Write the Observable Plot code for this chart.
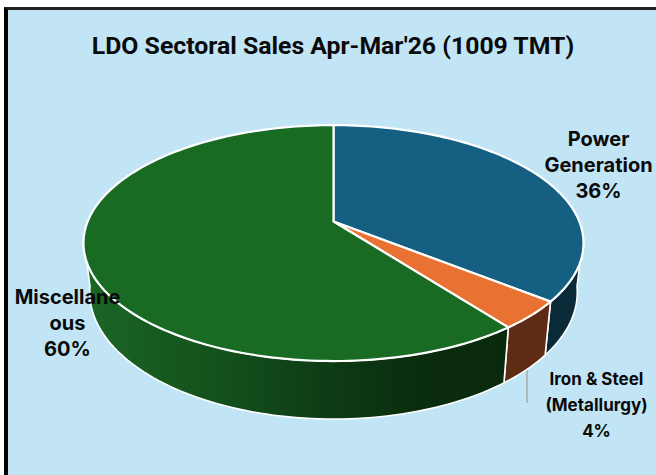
<!DOCTYPE html>
<html><head><meta charset="utf-8">
<script src="https://cdn.jsdelivr.net/npm/d3@7"></script>
<script src="https://cdn.jsdelivr.net/npm/@observablehq/plot@0.6"></script>
<style>
html,body{margin:0;padding:0;background:#fff;}
#frame{position:absolute;left:0;top:0;width:656px;height:475px;overflow:hidden;}
#panel{position:absolute;left:4px;top:7px;right:-4px;bottom:-4px;background:#C1E5F5;border-left:4px solid #000;border-top:3px solid #222;}
#title{position:absolute;left:0;top:31px;width:666px;text-align:center;font:700 24.8px Roboto,sans-serif;color:#0a0a0a;white-space:nowrap;}
#chart{position:absolute;left:0;top:60px;}
#chart svg{background:transparent;display:block;}
</style></head><body>
<div id="frame"><div id="panel"></div>
<div id="title">LDO Sectoral Sales Apr-Mar'26 (1009 TMT)</div>
<div id="chart"></div></div>
<script>
const sectors = ["Power Generation", "Iron & Steel (Metallurgy)", "Miscellaneous"];
const shares = [35.7, 3.9, 60.4];
const labels = ["36%", "4%", "60%"];
const topColors = ["#156082", "#E97132", "#196B24"];
const sideColors = ["#0A2A3A", "#5E2C14", "url(#greenSide)"];

const W = 656, H = 475, top0 = 60;
const cx = 333, cy = 221, k = -0.183, A = 114, B = 245.8, depth = 47.4, shrink = 0.975;
const rim = (deg) => {
  const t = deg * Math.PI / 180, u = Math.sin(t), v = -Math.cos(t), d = 1 + k * v;
  const x = cx + B * u / d, y = cy + A * v / d;
  return {x, y, xb: cx + (x - cx) * shrink, yb: y + depth / d};
};
let acc = 0;
const slices = shares.map((s, i) => {
  const a0 = acc; acc += s;
  return {i, a0: a0 * 3.6, a1: acc * 3.6};
});
const arc = (a0, a1) => {
  const n = Math.max(2, Math.ceil((a1 - a0) / 1.5));
  return d3.range(n + 1).map(j => a0 + (a1 - a0) * j / n);
};
const topPts = slices.flatMap(s => [
  {slice: s.i, x: cx, y: cy},
  ...arc(s.a0, s.a1).map(a => ({slice: s.i, ...rim(a)})),
  {slice: s.i, x: cx, y: cy}
]);
const rightA = 98, leftA = 262;
const wallPts = slices.flatMap(s => {
  const a0 = Math.max(s.a0, rightA), a1 = Math.min(s.a1, leftA);
  if (a1 <= a0) return [];
  const r = arc(a0, a1).map(a => rim(a));
  return [
    ...r.map(p => ({slice: s.i, x: p.x, y: p.y})),
    ...r.slice().reverse().map(p => ({slice: s.i, x: p.xb, y: p.yb})),
    {slice: s.i, x: r[0].x, y: r[0].y}
  ];
});

const defs = () => {
  const ns = "http://www.w3.org/2000/svg";
  const d = document.createElementNS(ns, "defs");
  d.innerHTML = `<linearGradient id="greenSide" gradientUnits="userSpaceOnUse" x1="85" x2="505" y1="0" y2="0">
    <stop offset="0" stop-color="#1A6626"/><stop offset="0.3" stop-color="#14521C"/>
    <stop offset="0.6" stop-color="#0D3A14"/><stop offset="0.8" stop-color="#0A2C0E"/><stop offset="1" stop-color="#0A2A0E"/>
  </linearGradient>`;
  return d;
};
const textOpts = {fontFamily: "Inter, sans-serif", fontWeight: 700, fontSize: 20, fill: "#0a0a0a", lineHeight: 1.3, frameAnchor: "top-left", textAnchor: "middle", lineAnchor: "top"};

const chart = Plot.plot({
  width: W, height: H - top0, margin: 0,
  x: {domain: [0, W], range: [0, W], axis: null},
  y: {domain: [top0, H], range: [0, H - top0], axis: null},
  style: {background: "transparent"},
  marks: [
    defs,
    Plot.ruleX([526.5], {y1: 368, y2: 403, stroke: "#B0B4B8", strokeWidth: 1.8}),
    Plot.line(wallPts, {x: "x", y: "y", z: "slice", fill: d => sideColors[d.slice], stroke: "#fff", strokeWidth: 1.6, curve: "linear"}),
    Plot.line(topPts, {x: "x", y: "y", z: "slice", fill: d => topColors[d.slice], stroke: "#fff", strokeWidth: 2.2, curve: "linear"}),
    Plot.text([`Power\nGeneration\n${labels[0]}`], {...textOpts, dx: 598, dy: 67}),
    Plot.text([`Iron & Steel\n(Metallurgy)\n${labels[1]}`], {...textOpts, fontSize: 17, lineHeight: 1.53, dx: 596, dy: 306}),
    Plot.text([`Miscellane\nous\n${labels[2]}`], {...textOpts, dx: 67, dy: 225})
  ]
});
document.getElementById("chart").append(chart);
</script>
</body></html>
